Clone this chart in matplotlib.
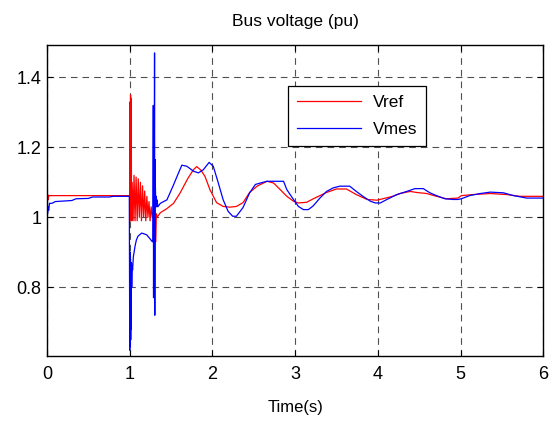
"""Bus voltage (pu): Vref vs Vmes."""

import matplotlib
matplotlib.use("Agg")
import matplotlib.pyplot as plt

plt.rcParams["font.family"] = ["Liberation Sans", "DejaVu Sans"]

# Vref (red)
vref_t = [0.0, 0.003, 0.008, 0.012, 0.02, 0.03, 0.99,
          1.0, 1.003, 1.006, 1.010, 1.014, 1.018, 1.022, 1.028,
          1.040, 1.052, 1.064, 1.077, 1.090, 1.103, 1.116, 1.129, 1.142, 1.155,
          1.168, 1.181, 1.194, 1.207, 1.220, 1.233, 1.246, 1.259, 1.272, 1.285,
          1.29, 1.30, 1.305, 1.315, 1.322, 1.33, 1.37, 1.45,
          1.53, 1.61, 1.70, 1.77, 1.81, 1.86, 1.91, 1.97, 2.05, 2.13, 2.21,
          2.29, 2.37, 2.45, 2.54, 2.66, 2.74, 2.82, 2.90, 2.98, 3.04, 3.14,
          3.22, 3.30, 3.38, 3.50, 3.62, 3.74, 3.87, 3.99, 4.06, 4.18, 4.27,
          4.39, 4.47, 4.59, 4.71, 4.83, 4.97, 5.01, 5.15, 5.36, 5.56, 5.72,
          5.85, 6.0]
vref_v = [1.45, 1.04, 1.065, 1.05, 1.06, 1.062, 1.062,
          1.062, 1.33, 0.99, 1.35, 1.00, 1.34, 0.99, 1.10,
          0.99, 1.12, 0.99, 1.115, 0.99, 1.11, 1.00, 1.10, 0.99, 1.09,
          1.00, 1.075, 0.99, 1.06, 1.00, 1.045, 0.99, 1.03, 1.00, 1.015,
          1.00, 1.0, 0.93, 0.93, 1.01, 1.00, 1.013, 1.025,
          1.04, 1.07, 1.11, 1.136, 1.145, 1.135, 1.117, 1.079, 1.042, 1.031, 1.029,
          1.031, 1.042, 1.071, 1.089, 1.103, 1.098, 1.079, 1.06, 1.046, 1.041, 1.043,
          1.053, 1.062, 1.071, 1.081, 1.081, 1.065, 1.051, 1.049, 1.053, 1.06, 1.068,
          1.074, 1.071, 1.068, 1.06, 1.053, 1.055, 1.062, 1.065, 1.068, 1.065, 1.06,
          1.06, 1.06]

# Vmes (blue)
vmes_t = [0.0, 0.002, 0.006, 0.012, 0.02, 0.03, 0.06, 0.1, 0.3, 0.35, 0.5,
          0.55, 0.75, 0.8, 0.995,
          1.0, 1.003, 1.006, 1.009, 1.012, 1.015, 1.018, 1.021, 1.024, 1.028,
          1.035, 1.044, 1.064, 1.08, 1.10, 1.145, 1.205, 1.24, 1.27, 1.28,
          1.285, 1.288, 1.292, 1.295, 1.30, 1.303, 1.307, 1.31, 1.315, 1.32,
          1.325, 1.33, 1.34, 1.37, 1.45, 1.53, 1.59, 1.63, 1.69, 1.77, 1.83,
          1.89, 1.96, 2.01, 2.07, 2.13, 2.19, 2.245, 2.29, 2.37, 2.45, 2.52,
          2.58, 2.66, 2.86, 2.90, 2.98, 3.04, 3.10, 3.16, 3.22, 3.30, 3.38,
          3.46, 3.54, 3.66, 3.74, 3.82, 3.91, 3.97, 4.03, 4.11, 4.23, 4.35,
          4.45, 4.55, 4.63, 4.71, 4.81, 4.91, 4.97, 5.01, 5.11, 5.24, 5.36,
          5.52, 5.64, 5.80, 6.0]
vmes_v = [0.66, 1.13, 1.01, 1.03, 1.02, 1.04, 1.04, 1.045, 1.048, 1.053, 1.054,
          1.058, 1.058, 1.06, 1.06,
          0.62, 0.90, 0.63, 0.88, 0.65, 0.85, 0.68, 0.87, 0.80, 0.86,
          0.85, 0.888, 0.917, 0.935, 0.946, 0.955, 0.95, 0.94, 0.931, 0.93,
          1.32, 0.77, 1.30, 0.90, 1.47, 0.72, 1.165, 1.09, 1.04, 1.06,
          1.03, 1.05, 1.03, 1.04, 1.05, 1.093, 1.127, 1.149, 1.146, 1.132, 1.127,
          1.136, 1.157, 1.146, 1.099, 1.05, 1.017, 1.003, 1.003, 1.028, 1.07, 1.094,
          1.098, 1.103, 1.103, 1.079, 1.051, 1.031, 1.022, 1.022, 1.033, 1.055, 1.074,
          1.084, 1.089, 1.089, 1.074, 1.06, 1.046, 1.041, 1.041, 1.051, 1.065, 1.074,
          1.082, 1.082, 1.07, 1.062, 1.053, 1.051, 1.051, 1.053, 1.062, 1.068, 1.072,
          1.07, 1.062, 1.055, 1.055]

x_ticks = [0, 1, 2, 3, 4, 5, 6]
y_ticks = [0.8, 1.0, 1.2, 1.4]
y_tick_labels = ["0.8", "1", "1.2", "1.4"]

fig = plt.figure(figsize=(5.6, 4.24), dpi=100)
ax = fig.add_axes([0.084, 0.160, 0.886, 0.735])

ax.plot(vref_t, vref_v, color="#ff0000", linewidth=0.9, label="Vref")
ax.plot(vmes_t, vmes_v, color="#0000ff", linewidth=0.9, label="Vmes")

ax.set_xlim(0, 6)
ax.set_ylim(0.603, 1.494)
ax.set_xticks(x_ticks)
ax.set_yticks(y_ticks)
ax.set_yticklabels(y_tick_labels)
ax.tick_params(direction="in", top=True, right=True, length=4, width=0.8,
               labelsize=13)
ax.tick_params(axis="x", pad=7)
ax.tick_params(axis="y", pad=4)
ax.grid(True, color="#505050", linestyle=(0, (6, 4.5)), linewidth=0.8)
for s in ax.spines.values():
    s.set_linewidth(1.0)

ax.set_title("Bus voltage (pu)", fontsize=12.5, pad=13)
ax.set_xlabel("Time(s)", fontsize=12, labelpad=12)

leg = ax.legend(loc="upper left", bbox_to_anchor=(0.486, 0.866), fontsize=12.5,
                frameon=True, fancybox=False, edgecolor="black", framealpha=1,
                borderaxespad=0, handlelength=3.7, handletextpad=0.7,
                labelspacing=0.7, borderpad=0.5)
leg.get_frame().set_linewidth(0.9)

fig.savefig("out.png", dpi=100)
